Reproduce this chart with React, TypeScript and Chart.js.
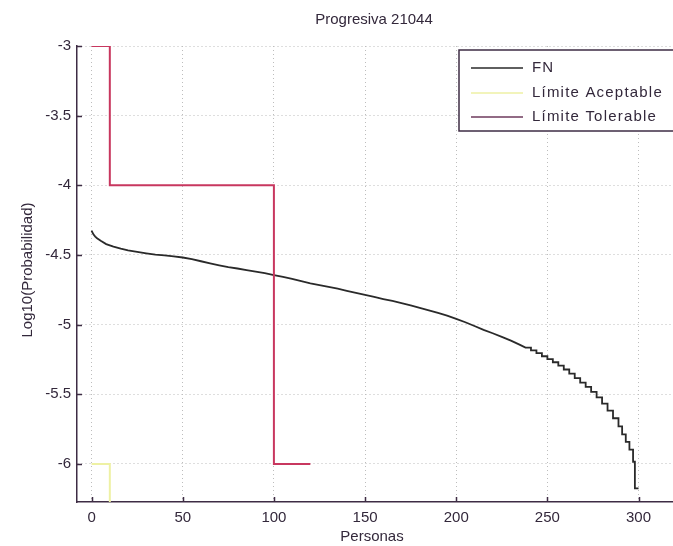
import React, { useEffect, useRef } from "react";
import { Chart, registerables } from "chart.js";

Chart.register(...registerables);

const chartTitle = "Progresiva 21044";
const xAxisTitle = "Personas";
const yAxisTitle = "Log10(Probabilidad)";

const xTickValues = [0, 50, 100, 150, 200, 250, 300];
const yTickValues = [-3, -3.5, -4, -4.5, -5, -5.5, -6];

const seriesNames = ["FN", "Límite Aceptable", "Límite Tolerable"];
const seriesColors = ["#2a2a2a", "#eef1a4", "#c8375f"];
const legendSampleColors = ["#2a2a2a", "#eef1a4", "#6e3a5c"];

// FN: smooth-looking head of the curve
const fnPersonas = [
  0, 1, 2, 3, 5, 8, 12, 16, 20, 25, 30, 35, 40, 45, 50, 55, 60, 65, 70, 75, 80, 85, 90, 95,
  100, 105, 110, 115, 120, 125, 130, 135, 140, 145, 150, 155, 160, 165, 170, 175, 180, 185,
  190, 195, 200, 205, 210, 215, 220, 225, 230, 235,
];
const fnLogProb = [
  -4.326, -4.352, -4.368, -4.38, -4.398, -4.422, -4.44, -4.455, -4.467, -4.478, -4.488,
  -4.497, -4.503, -4.51, -4.518, -4.53, -4.545, -4.56, -4.574, -4.587, -4.597, -4.608,
  -4.619, -4.631, -4.644, -4.657, -4.672, -4.688, -4.703, -4.716, -4.729, -4.742, -4.757,
  -4.772, -4.787, -4.801, -4.816, -4.83, -4.845, -4.862, -4.879, -4.897, -4.916, -4.935,
  -4.958, -4.983, -5.01, -5.037, -5.062, -5.088, -5.115, -5.145,
];
// FN: staircase tail (value holds until the next N)
const fnStairPersonas = [
  238, 241, 244, 247, 250, 253, 256, 259, 262, 265, 268, 271, 274, 277, 280, 283, 286, 289,
  291, 293, 295, 297, 298, 300,
];
const fnStairLogProb = [
  -5.165, -5.185, -5.205, -5.227, -5.248, -5.27, -5.294, -5.322, -5.351, -5.384, -5.416,
  -5.447, -5.482, -5.522, -5.567, -5.617, -5.672, -5.73, -5.787, -5.842, -5.897, -5.984,
  -6.175, -6.175,
];

const aceptablePersonas = [0, 10, 10, 100];
const aceptableLogProb = [-6, -6, -8, -8];

const tolerablePersonas = [0, 10, 10, 100, 100, 120];
const tolerableLogProb = [-3, -3, -4, -4, -6, -6];

const FONT = "'Liberation Sans', Arial, sans-serif";
const TEXT = "#33283b";
const AXIS = "#3e2c44";

const toPoints = (xs: number[], ys: number[]) => xs.map((x, i) => ({ x, y: ys[i] }));

const buildFN = () => {
  const pts = toPoints(fnPersonas, fnLogProb);
  fnStairPersonas.forEach((x, i) => {
    pts.push({ x, y: fnStairLogProb[i] });
    if (i < fnStairPersonas.length - 1) {
      pts.push({ x: fnStairPersonas[i + 1], y: fnStairLogProb[i] });
    }
  });
  return pts;
};

const decorPlugin = {
  id: "decor",
  afterDraw(chart: any) {
    const { ctx, chartArea } = chart;
    const xs = chart.scales.x;
    const ys = chart.scales.y;
    ctx.save();
    ctx.strokeStyle = AXIS;
    ctx.lineWidth = 1.5;
    ctx.beginPath();
    yTickValues.forEach((v) => {
      const py = Math.round(ys.getPixelForValue(v)) + 0.5;
      ctx.moveTo(chartArea.left, py);
      ctx.lineTo(chartArea.left + 5, py);
    });
    xTickValues.forEach((v) => {
      const px = Math.round(xs.getPixelForValue(v)) + 0.5;
      ctx.moveTo(px, chartArea.bottom);
      ctx.lineTo(px, chartArea.bottom - 5);
    });
    ctx.stroke();

    const cx = (chartArea.left + chartArea.right) / 2;
    ctx.fillStyle = TEXT;
    ctx.font = `15px ${FONT}`;
    ctx.textAlign = "center";
    ctx.textBaseline = "middle";
    ctx.fillText(chartTitle, cx - 2, 20);
    ctx.fillText(xAxisTitle, cx - 4, 537);
    ctx.save();
    ctx.translate(28, (chartArea.top + chartArea.bottom) / 2 - 4);
    ctx.rotate(-Math.PI / 2);
    ctx.fillText(yAxisTitle, 0, 0);
    ctx.restore();

    const lx = 459;
    const ly = 50;
    ctx.fillStyle = "#ffffff";
    ctx.fillRect(lx, ly, 240, 81);
    ctx.strokeStyle = AXIS;
    ctx.lineWidth = 1.5;
    ctx.strokeRect(lx, ly, 240, 81);
    const rows = [68, 93, 117];
    seriesNames.forEach((name, i) => {
      ctx.strokeStyle = legendSampleColors[i];
      ctx.lineWidth = 1.5;
      ctx.beginPath();
      ctx.moveTo(471, rows[i]);
      ctx.lineTo(523, rows[i]);
      ctx.stroke();
      ctx.fillStyle = TEXT;
      ctx.textAlign = "left";
      ctx.textBaseline = "middle";
      ctx.font = `15px ${FONT}`;
      (ctx as any).letterSpacing = "1.2px";
      ctx.fillText(name, 532, rows[i]);
      (ctx as any).letterSpacing = "0px";
    });
    ctx.restore();
  },
};

export default function App() {
  const canvasRef = useRef<HTMLCanvasElement | null>(null);

  useEffect(() => {
    const canvas = canvasRef.current;
    if (!canvas) return;
    const gridCommon = {
      color: "#bdbdbd",
      lineWidth: 1,
      drawTicks: false,
    };
    const chart = new Chart(canvas, {
      type: "line",
      data: {
        datasets: [
          {
            label: seriesNames[0],
            data: buildFN(),
            borderColor: seriesColors[0],
            borderWidth: 1.8,
            pointRadius: 0,
            order: 2,
          },
          {
            label: seriesNames[1],
            data: toPoints(aceptablePersonas, aceptableLogProb),
            borderColor: seriesColors[1],
            borderWidth: 2,
            pointRadius: 0,
            order: 1,
          },
          {
            label: seriesNames[2],
            data: toPoints(tolerablePersonas, tolerableLogProb),
            borderColor: seriesColors[2],
            borderWidth: 2,
            pointRadius: 0,
            order: 0,
          },
        ],
      },
      options: {
        animation: false,
        responsive: false,
        events: [],
        layout: { padding: { left: 0, top: 46, right: 5, bottom: 0 } },
        plugins: {
          legend: { display: false },
          title: { display: false },
          tooltip: { enabled: false },
        },
        scales: {
          x: {
            type: "linear",
            min: -8,
            max: 320,
            afterBuildTicks: (s: any) => {
              s.ticks = xTickValues.map((v) => ({ value: v }));
            },
            afterFit: (s: any) => {
              s.height = 44;
            },
            grid: gridCommon,
            border: { display: true, color: AXIS, width: 1.5, dash: [1, 3] },
            ticks: {
              padding: 7,
              color: TEXT,
              font: { family: FONT, size: 15 },
              maxRotation: 0,
              autoSkip: false,
            },
          },
          y: {
            type: "linear",
            min: -6.273,
            max: -3,
            afterBuildTicks: (s: any) => {
              s.ticks = yTickValues.map((v) => ({ value: v }));
            },
            afterFit: (s: any) => {
              s.width = 77;
            },
            grid: gridCommon,
            border: { display: true, color: AXIS, width: 1.5, dash: [1, 3] },
            ticks: {
              padding: 6,
              color: TEXT,
              font: { family: FONT, size: 15 },
              autoSkip: false,
              callback: (v: any) => String(v),
            },
          },
        },
      },
      plugins: [decorPlugin],
    });
    return () => chart.destroy();
  }, []);

  return (
    <div
      style={{
        position: "absolute",
        left: 0,
        top: 0,
        width: 673,
        height: 546,
        overflow: "hidden",
        background: "#ffffff",
      }}
    >
      <canvas ref={canvasRef} width={680} height={546} style={{ display: "block" }} />
    </div>
  );
}
